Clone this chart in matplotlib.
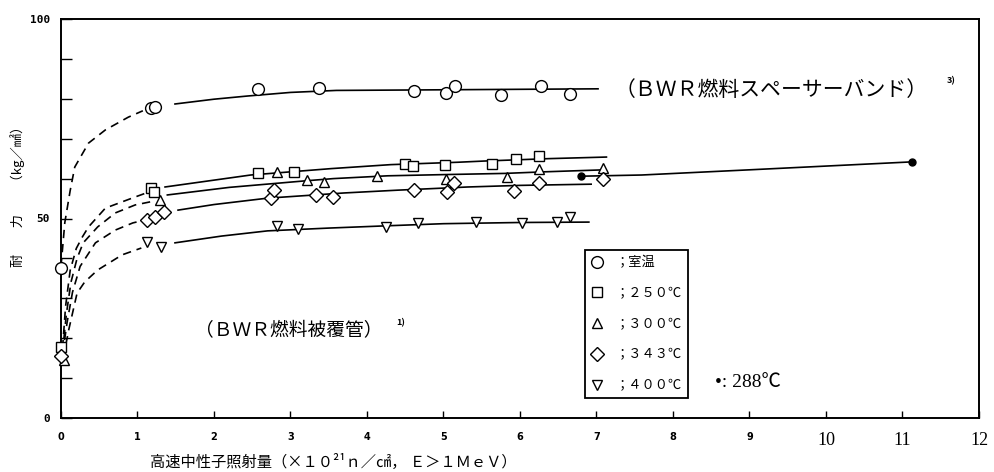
import matplotlib
matplotlib.use('Agg')
import matplotlib.pyplot as plt
from matplotlib.lines import Line2D

plt.rcParams['font.family'] = ['Noto Sans CJK JP', 'DejaVu Sans']

# ---------------- data ----------------
# measured points
rt_x = [0.0, 1.17, 1.23, 2.57, 3.37, 4.61, 5.03, 5.15, 5.75, 6.27, 6.66]
rt_y = [37.5, 77.8, 78.0, 82.5, 82.8, 82.0, 81.5, 83.3, 80.9, 83.3, 81.3]

c250_x = [0.0, 1.18, 1.21, 2.57, 3.04, 4.50, 4.60, 5.02, 5.63, 5.95, 6.25]
c250_y = [17.8, 57.6, 56.6, 61.4, 61.7, 63.7, 63.2, 63.4, 63.7, 64.9, 65.7]

c300_x = [0.04, 1.30, 2.83, 3.22, 3.44, 4.13, 5.03, 5.83, 6.25, 7.08]
c300_y = [14.5, 54.6, 61.7, 59.6, 59.2, 60.7, 60.0, 60.4, 62.3, 62.7]

c343_x = [0.0, 1.13, 1.23, 1.35, 2.75, 2.78, 3.33, 3.55, 4.61, 5.05, 5.14, 5.92, 6.25, 7.08]
c343_y = [15.5, 49.6, 50.4, 51.6, 55.1, 57.1, 55.9, 55.5, 57.1, 56.7, 58.8, 56.9, 59.0, 59.8]

c400_x = [1.13, 1.31, 2.83, 3.10, 4.25, 4.67, 5.43, 6.03, 6.49, 6.66]
c400_y = [44.1, 42.9, 48.1, 47.4, 47.9, 48.9, 49.1, 48.9, 49.1, 50.4]

c288_x = [6.80, 11.13]
c288_y = [60.6, 64.2]

# hand-drawn trend curves (nodes)
rt_dash_x = [0.0, 0.05, 0.12, 0.18, 0.36, 0.58, 0.88, 1.07]
rt_dash_y = [38.0, 49.0, 57.0, 62.9, 68.9, 72.2, 75.4, 77.0]
rt_line_x = [1.49, 2.0, 2.44, 3.0, 3.6, 4.5, 7.02]
rt_line_y = [78.7, 79.9, 80.7, 81.6, 82.1, 82.2, 82.5]

c250_dash_x = [0.02, 0.06, 0.12, 0.20, 0.28, 0.36, 0.58, 0.97, 1.10]
c250_dash_y = [17.5, 28.0, 37.0, 42.5, 45.4, 47.9, 52.6, 55.4, 56.3]
c250_line_x = [1.36, 2.48, 3.2, 3.53, 4.31, 5.19, 5.53, 6.37, 7.13]
c250_line_y = [57.9, 60.9, 62.0, 62.5, 63.5, 64.1, 64.4, 65.0, 65.4]

c300_dash_x = [0.02, 0.07, 0.13, 0.21, 0.29, 0.48, 0.71, 0.97, 1.20]
c300_dash_y = [16.5, 26.0, 34.0, 40.0, 43.9, 47.9, 51.4, 53.4, 54.3]
c300_line_x = [1.39, 2.2, 3.17, 3.56, 4.27, 5.0, 5.8, 6.32, 7.1]
c300_line_y = [55.9, 57.8, 59.4, 60.0, 60.7, 61.0, 61.3, 61.7, 62.2]

c343_dash_x = [0.02, 0.08, 0.15, 0.25, 0.45, 0.71, 0.94, 1.05]
c343_dash_y = [16.0, 24.0, 31.5, 38.0, 43.9, 47.1, 48.9, 49.4]
c343_line_x = [1.53, 2.0, 2.7, 3.7, 4.4, 5.32, 6.0, 6.93]
c343_line_y = [52.1, 53.5, 55.1, 56.4, 57.1, 57.9, 58.3, 58.6]

c400_dash_x = [0.03, 0.10, 0.21, 0.31, 0.48, 0.80, 1.05]
c400_dash_y = [15.0, 22.0, 31.3, 34.1, 37.1, 40.9, 42.6]
c400_line_x = [1.49, 2.1, 2.7, 3.5, 4.3, 5.0, 6.0, 6.9]
c400_line_y = [43.9, 45.6, 46.9, 47.6, 48.2, 48.7, 49.0, 49.1]

c288_line_x = [6.80, 7.59, 9.0, 11.13]
c288_line_y = [60.6, 60.9, 62.2, 64.2]

legend_labels = ['；室温', '；２５０℃', '；３００℃', '；３４３℃', '；４００℃']
x_ticks = list(range(0, 13))
y_ticks = list(range(0, 101, 10))
y_ticklabels = {0: '0', 50: '50', 100: '100'}

# ---------------- figure ----------------
fig = plt.figure(figsize=(9.95, 4.72), dpi=100)
ax = fig.add_axes([61 / 995, 54 / 472, 918 / 995, 399 / 472])
ax.set_xlim(0, 12)
ax.set_ylim(0, 100)

lw = 1.2
dash = (0, (5, 3.5))
curves = [
    (rt_dash_x, rt_dash_y, rt_line_x, rt_line_y),
    (c250_dash_x, c250_dash_y, c250_line_x, c250_line_y),
    (c300_dash_x, c300_dash_y, c300_line_x, c300_line_y),
    (c343_dash_x, c343_dash_y, c343_line_x, c343_line_y),
    (c400_dash_x, c400_dash_y, c400_line_x, c400_line_y),
]
for dx, dy, sx, sy in curves:
    ax.plot(dx, dy, color='black', lw=lw, ls=dash, zorder=2)
    ax.plot(sx, sy, color='black', lw=lw, zorder=2)
ax.plot(c288_line_x, c288_line_y, color='black', lw=lw, zorder=2)

mk = dict(ls='none', mfc='white', mec='black', mew=1.0, zorder=3, clip_on=False)
series = [
    (rt_x, rt_y, 'o', 8.5),
    (c250_x, c250_y, 's', 7.5),
    (c300_x, c300_y, '^', 7.5),
    (c343_x, c343_y, 'D', 7.0),
    (c400_x, c400_y, 'v', 7.5),
]
handles = []
for (xs, ys, m, s), lab in zip(series, legend_labels):
    ax.plot(xs, ys, marker=m, ms=s, **mk)
    handles.append(Line2D([], [], marker=m, ms=s, ls='none', mfc='white',
                          mec='black', mew=1.0, label=lab))
ax.plot(c288_x, c288_y, 'o', color='black', ms=5, zorder=3)

# axes styling
for sp in ax.spines.values():
    sp.set_linewidth(1.4)
ax.set_xticks(x_ticks)
ax.set_xticklabels([str(t) for t in x_ticks])
ax.set_yticks(y_ticks)
ax.set_yticklabels([y_ticklabels.get(t, '') for t in y_ticks],
                   family='DejaVu Sans Mono', fontsize=8, fontweight='bold')
ax.tick_params(axis='x', direction='in', length=5, width=1.0, pad=10)
ax.tick_params(axis='y', direction='in', length=8, width=1.0, pad=8)
for lab, t in zip(ax.get_xticklabels(), x_ticks):
    if t >= 10:
        lab.set_fontsize(13)
        lab.set_family('Liberation Serif')
    else:
        lab.set_fontsize(7)
        lab.set_family('DejaVu Sans')
        lab.set_fontweight('bold')

# legend box
leg = ax.legend(handles=handles, loc='upper left',
                bbox_to_anchor=((585 - 61) / 918, (418 - 250) / 399),
                fontsize=9.5, frameon=True, fancybox=False, framealpha=1,
                edgecolor='black', handlelength=0.9, handletextpad=1.0,
                labelspacing=1.35, borderpad=0.45, borderaxespad=0)
leg.get_frame().set_linewidth(1.3)

ax.text(8.55, 8.8, '•: 288℃', fontsize=14, ha='left', va='center',
        family=['Liberation Serif', 'Noto Sans CJK JP'])

# annotations
ax.text(7.24, 82.2, '（ＢＷＲ燃料スペーサーバンド）', fontsize=15,
        ha='left', va='center')
ax.text(11.58, 84.5, '3)', fontsize=6.5, ha='left', va='center', fontweight='bold')
ax.text(1.75, 21.8, '（ＢＷＲ燃料被覆管）', fontsize=13.5, ha='left', va='center')
ax.text(4.38, 23.8, '1)', fontsize=6.5, ha='left', va='center', fontweight='bold')

# axis titles
fig.text(18 / 995, 1 - 193 / 472, '耐　　力　　（kg／㎟）', rotation=90,
         fontsize=9.5, ha='center', va='center')
fig.text(150 / 995, 1 - 462 / 472, '高速中性子照射量（×１０²¹ｎ／㎠， Ｅ＞１ＭｅＶ）',
         fontsize=11, ha='left', va='center')

fig.savefig('out.png', dpi=100)
